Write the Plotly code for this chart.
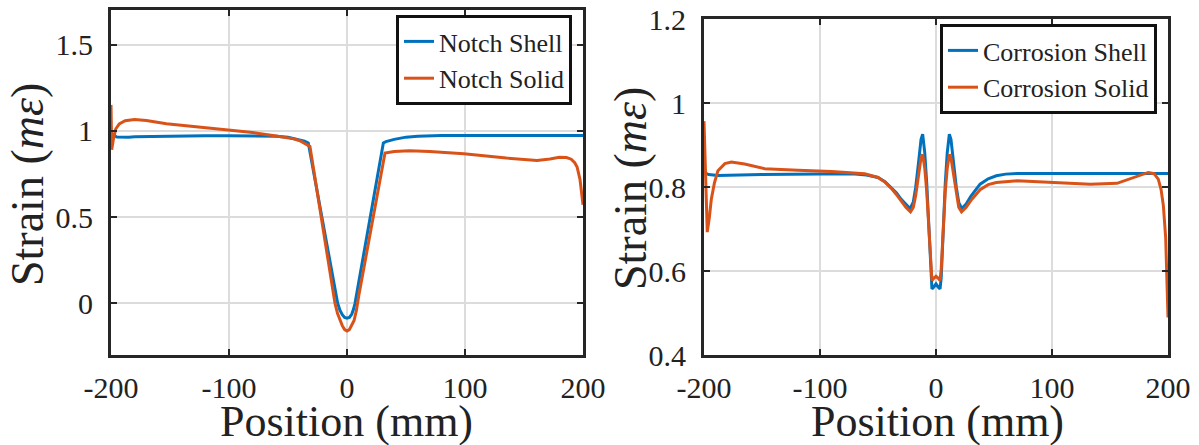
import plotly.graph_objects as go

# ---------------- data ----------------
notch_shell_x = [-200, -198, -195, -190, -185, -180, -160, -140, -120, -100, -80, -60, -50, -45, -40, -36, -32.8,
                 -30, -25, -20, -15, -10, -7.9, -6, -4, -2, 0, 2, 4, 5.5, 6.8, 10, 15, 20, 25, 29, 30.8,
                 33, 36, 40, 50, 60, 80, 100, 150, 200]
notch_shell_y = [0.99, 0.975, 0.964, 0.962, 0.963, 0.965, 0.968, 0.970, 0.971, 0.971, 0.970, 0.968, 0.962, 0.955, 0.947, 0.939, 0.929,
                 0.824, 0.638, 0.451, 0.265, 0.078, 0.0, -0.040, -0.066, -0.082, -0.087, -0.082, -0.064, -0.035, 0.0, 0.124, 0.317, 0.51, 0.704, 0.86, 0.929,
                 0.937, 0.943, 0.950, 0.963, 0.968, 0.972, 0.973, 0.973, 0.973]

notch_solid_x = [-200, -199.4, -198, -196, -193, -188, -180, -170, -153, -125, -102, -80, -60, -50, -45, -40, -35, -31.4,
                 -30, -25, -20, -15, -12, -10.2, -8, -6, -4, -2, 0, 2, 4, 6, 8, 8.8, 10, 15, 20, 25, 30, 32.2,
                 40, 53, 70, 99, 135, 161, 172, 180, 186, 190, 193, 195, 197.5, 199, 200]
notch_solid_y = [1.15, 0.89, 0.95, 1.01, 1.04, 1.058, 1.065, 1.06, 1.041, 1.022, 1.006, 0.99, 0.97, 0.96, 0.953, 0.942, 0.925, 0.909,
                 0.849, 0.634, 0.42, 0.206, 0.077, 0.0, -0.06, -0.10, -0.13, -0.153, -0.161, -0.153, -0.13, -0.10, -0.04, 0.0, 0.045, 0.231, 0.417, 0.603, 0.789, 0.871,
                 0.880, 0.884, 0.880, 0.867, 0.842, 0.828, 0.836, 0.846, 0.845, 0.835, 0.815, 0.79, 0.716, 0.64, 0.571]

corr_shell_x = [-200, -196, -188, -170, -150, -100, -70, -60, -50, -44, -38.5, -34, -30, -26, -22.4, -19.6, -17.5, -15,
                -12.9, -11.5, -9.7, -8, -6, -4.5, -3.5, -2, 0, 2, 3.5, 4.5, 6, 8, 9.7, 11.5, 12.9, 15, 17.5, 19.6,
                22.2, 26, 30, 38, 45, 52, 60, 70, 100, 150, 200]
corr_shell_y = [0.835, 0.830, 0.828, 0.829, 0.830, 0.831, 0.831, 0.829, 0.823, 0.813, 0.799, 0.786, 0.771, 0.758, 0.749, 0.764, 0.80, 0.86,
                0.914, 0.926, 0.882, 0.81, 0.69, 0.585, 0.558, 0.562, 0.570, 0.562, 0.558, 0.585, 0.69, 0.81, 0.882, 0.926, 0.914, 0.86, 0.80, 0.764,
                0.749, 0.760, 0.778, 0.807, 0.820, 0.827, 0.831, 0.8325, 0.8325, 0.8325, 0.8325]

corr_solid_x = [-200, -199, -198, -197.2, -195.5, -193.7, -191, -188, -182, -176.4, -165, -147.7, -119, -90, -61.5, -50, -44,
                -38.5, -34, -30, -26, -22, -19.6, -17.5, -15, -12.9, -11.5, -9.7, -8, -6, -4.5, -3.5, -2, 0, 2, 3.5, 4.5, 6,
                8, 9.7, 11.5, 12.9, 15, 17.5, 19.6, 22, 26, 30, 38, 45, 52, 70, 101, 133, 156, 170, 183, 188, 191.6,
                194, 196, 198, 199, 200]
corr_solid_y = [0.957, 0.85, 0.74, 0.693, 0.725, 0.771, 0.81, 0.839, 0.856, 0.860, 0.855, 0.844, 0.840, 0.837, 0.832, 0.823, 0.812,
                0.797, 0.782, 0.766, 0.752, 0.741, 0.752, 0.78, 0.83, 0.87, 0.878, 0.845, 0.79, 0.69, 0.605, 0.578, 0.583, 0.588, 0.583, 0.578, 0.605, 0.69,
                0.79, 0.845, 0.878, 0.87, 0.83, 0.78, 0.752, 0.741, 0.752, 0.768, 0.794, 0.806, 0.811, 0.815, 0.811, 0.807, 0.809, 0.823, 0.835, 0.832, 0.819,
                0.795, 0.756, 0.68, 0.60, 0.49]

x_ticks = [-200, -100, 0, 100, 200]
x_tick_text = ["-200", "-100", "0", "100", "200"]
left_y_ticks = [0, 0.5, 1, 1.5]
right_y_ticks = [0.4, 0.6, 0.8, 1, 1.2]

BLUE = "#0072BD"
ORANGE = "#D95319"
FONT = "Liberation Serif"
TXT = "#222222"
W, H = 1199, 445

fig = go.Figure()
fig.add_trace(go.Scatter(x=notch_shell_x, y=notch_shell_y, mode="lines", name="Notch Shell",
                         line=dict(color=BLUE, width=3), xaxis="x", yaxis="y", legend="legend"))
fig.add_trace(go.Scatter(x=notch_solid_x, y=notch_solid_y, mode="lines", name="Notch Solid",
                         line=dict(color=ORANGE, width=3), xaxis="x", yaxis="y", legend="legend"))
fig.add_trace(go.Scatter(x=corr_shell_x, y=corr_shell_y, mode="lines", name="Corrosion Shell",
                         line=dict(color=BLUE, width=3), xaxis="x2", yaxis="y2", legend="legend2"))
fig.add_trace(go.Scatter(x=corr_solid_x, y=corr_solid_y, mode="lines", name="Corrosion Solid",
                         line=dict(color=ORANGE, width=3), xaxis="x2", yaxis="y2", legend="legend2"))

axis_common = dict(showline=True, linecolor="#262626", linewidth=3, mirror="allticks",
                   ticks="inside", ticklen=6, tickwidth=2, tickcolor="#262626",
                   showgrid=True, gridcolor="#dcdcdc", gridwidth=2, zeroline=False,
                   automargin=False,
                   tickfont=dict(family=FONT, size=30, color=TXT))

# pixel-derived domains
lx0, lx1 = 111 / W, 583 / W
rx0, rx1 = 704 / W, 1168 / W
ly0, ly1 = 1 - 355 / H, 1 - 10 / H
ry0, ry1 = 1 - 355.3 / H, 1 - 19 / H

fig.update_layout(
    width=W, height=H, margin=dict(l=0, r=0, t=0, b=0, pad=0, autoexpand=False),
    paper_bgcolor="white", plot_bgcolor="white",
    xaxis=dict(domain=[lx0, lx1], range=[-200, 200], anchor="y",
               tickvals=x_ticks, ticktext=x_tick_text, ticklabelstandoff=4, **axis_common),
    yaxis=dict(domain=[ly0, ly1], range=[-0.3, 1.7], anchor="x",
               tickvals=left_y_ticks, ticklabelstandoff=9, **axis_common),
    xaxis2=dict(domain=[rx0, rx1], range=[-200, 200], anchor="y2",
                tickvals=x_ticks, ticktext=x_tick_text, ticklabelstandoff=4, **axis_common),
    yaxis2=dict(domain=[ry0, ry1], range=[0.4, 1.2], anchor="x2",
                tickvals=right_y_ticks, ticklabelstandoff=9, **axis_common),
    legend=dict(x=572 / W, y=1 - 15 / H, xanchor="right", yanchor="top",
                bgcolor="white", bordercolor="#111111", borderwidth=3,
                font=dict(family=FONT, size=26, color=TXT), tracegroupgap=0),
    legend2=dict(x=1157 / W, y=1 - 24 / H, xanchor="right", yanchor="top",
                 bgcolor="white", bordercolor="#111111", borderwidth=3,
                 font=dict(family=FONT, size=26, color=TXT), tracegroupgap=0),
    showlegend=True,
)

ann_font = dict(family=FONT, size=44, color=TXT)
fig.add_annotation(text="Position (mm)", x=347 / W, y=1 - 421 / H, xref="paper", yref="paper",
                   showarrow=False, font=ann_font, xanchor="center", yanchor="middle")
fig.add_annotation(text="Position (mm)", x=937 / W, y=1 - 421 / H, xref="paper", yref="paper",
                   showarrow=False, font=ann_font, xanchor="center", yanchor="middle")
fig.add_annotation(text="Strain (<i>mε</i>)", x=27 / W, y=1 - 185 / H, xref="paper", yref="paper",
                   showarrow=False, font=dict(family=FONT, size=46, color=TXT),
                   textangle=-90, xanchor="center", yanchor="middle")
fig.add_annotation(text="Strain (<i>mε</i>)", x=630 / W, y=1 - 189 / H, xref="paper", yref="paper",
                   showarrow=False, font=dict(family=FONT, size=46, color=TXT),
                   textangle=-90, xanchor="center", yanchor="middle")

fig.write_html("out.html")
